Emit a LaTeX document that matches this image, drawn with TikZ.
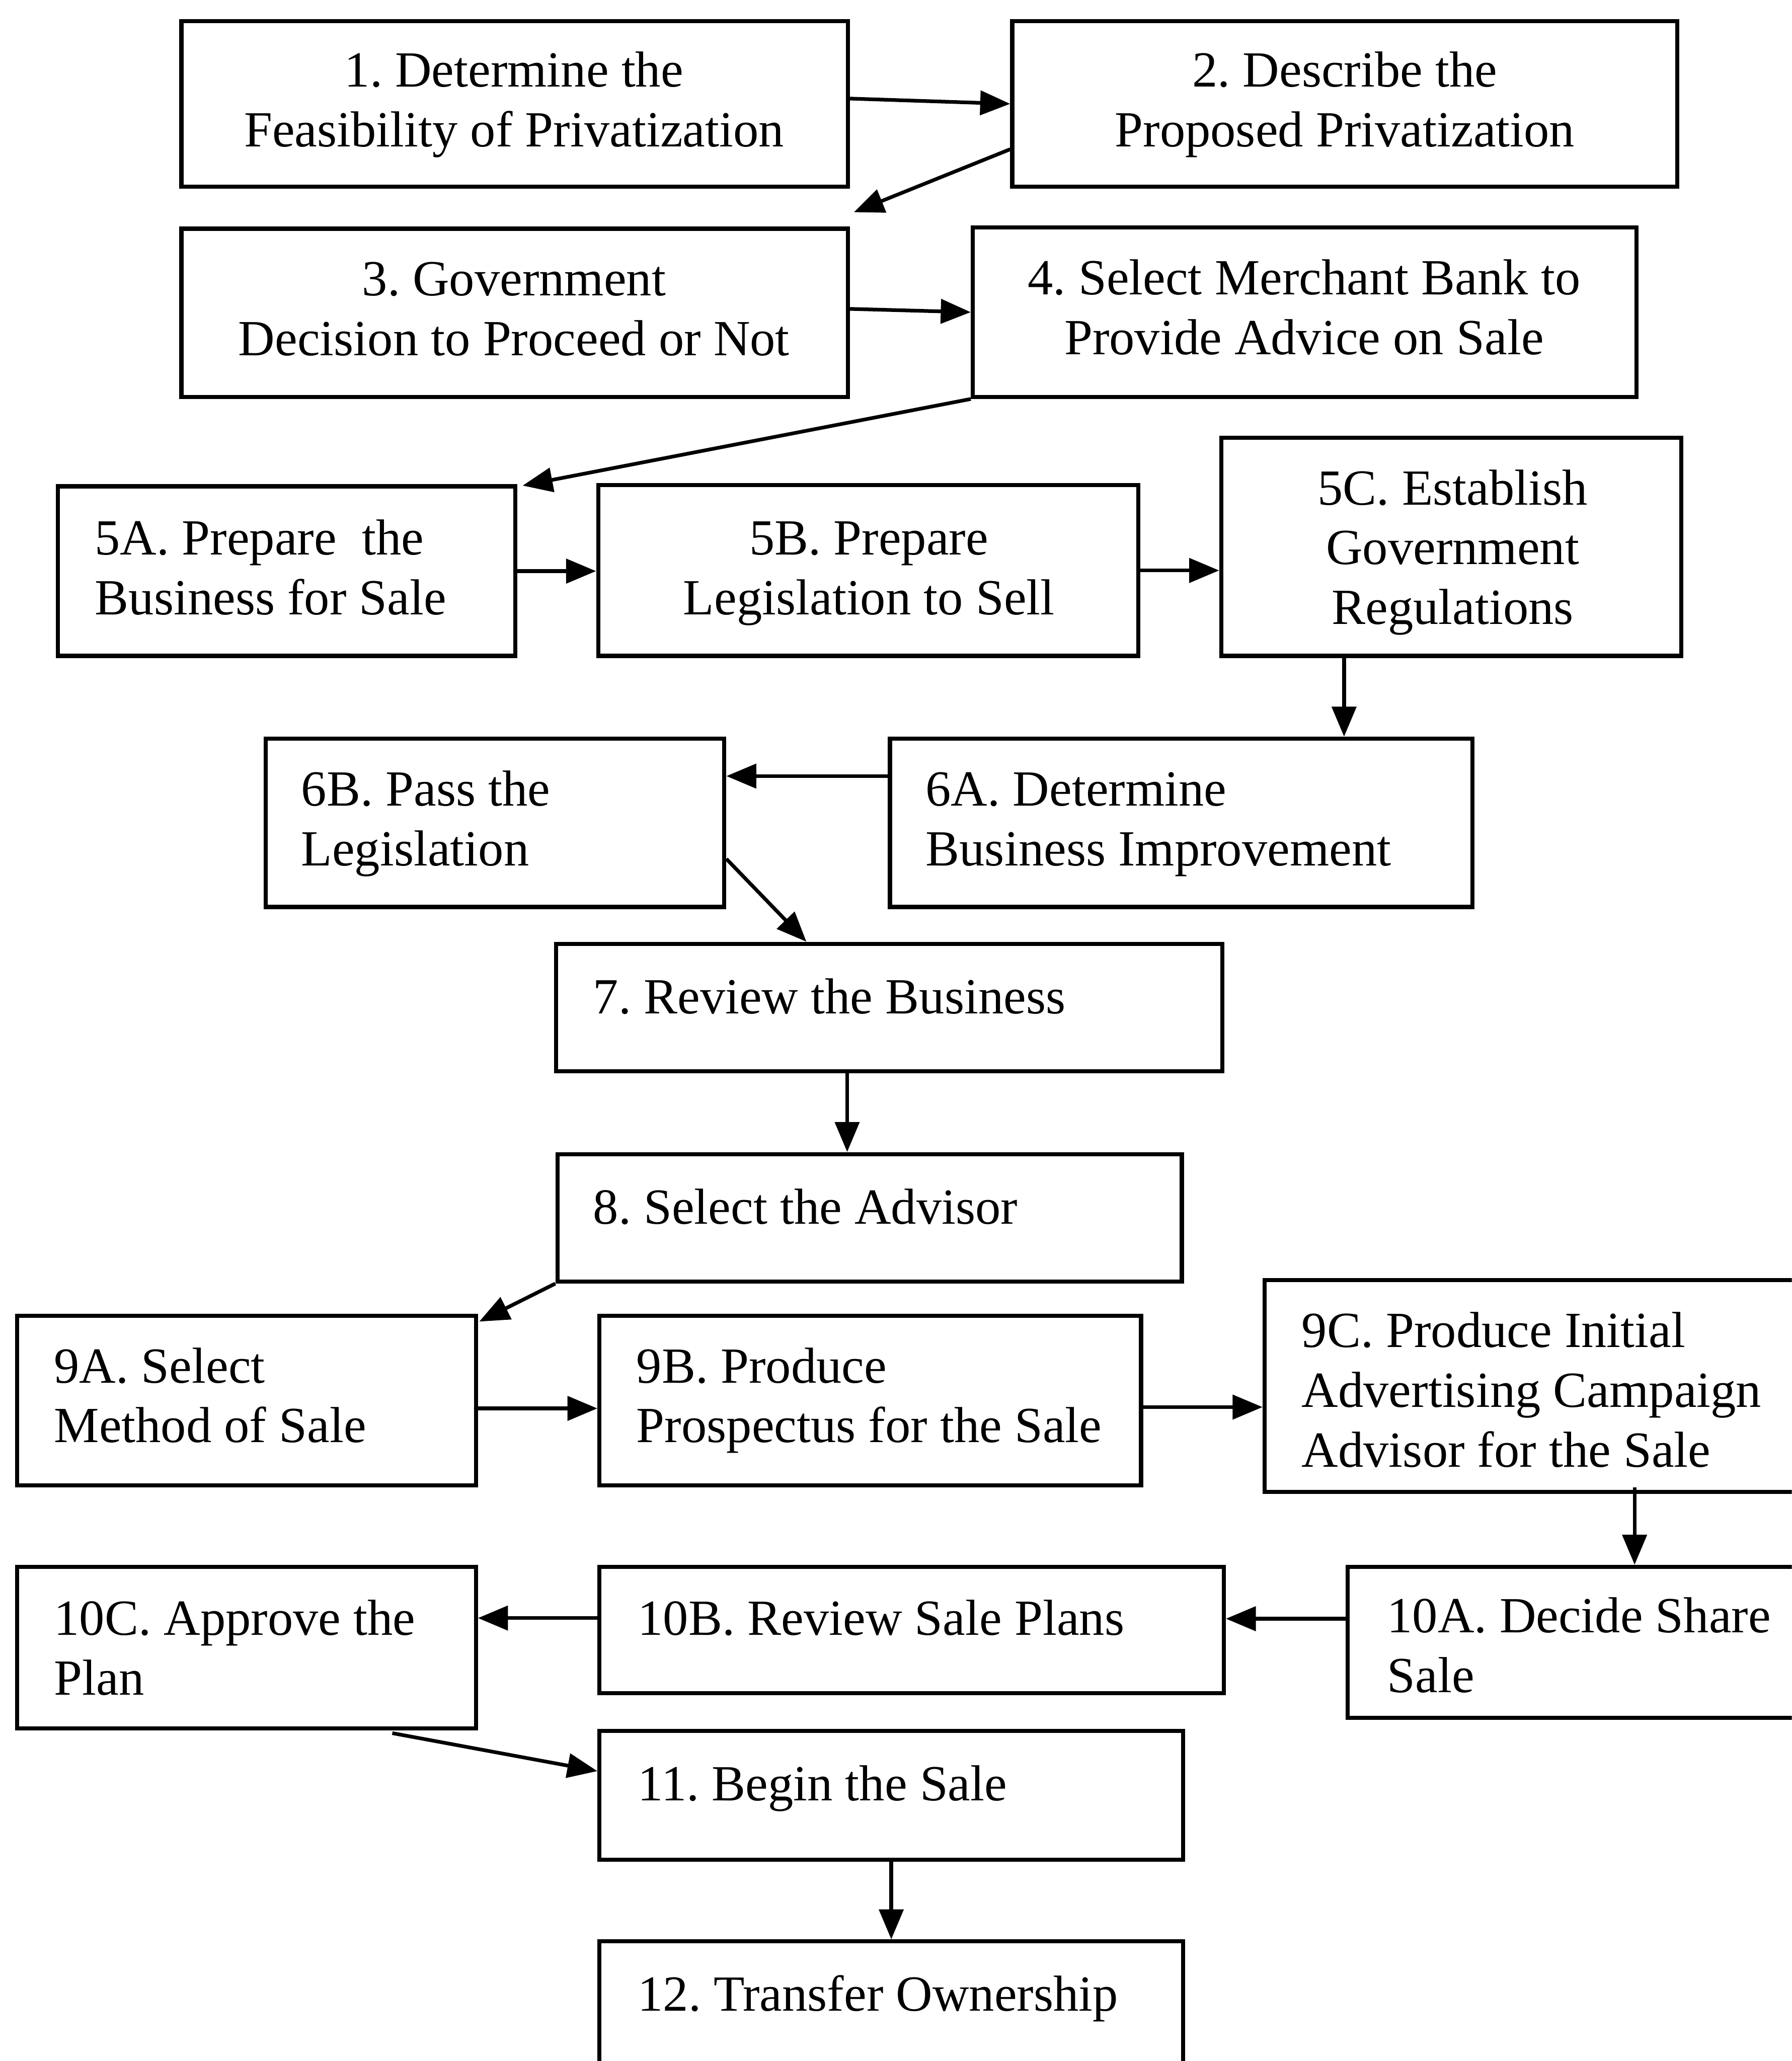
\documentclass[tikz,border=0pt]{standalone}
\usepackage{fontspec}
\setmainfont{Liberation Serif}
\usetikzlibrary{arrows.meta,calc,fit}
\begin{document}
\frenchspacing
\begin{tikzpicture}[x=0.031593cm,y=-0.031593cm,
  box/.style={draw,line width=2.8pt,inner sep=0pt,rectangle},
  txt/.style={inner sep=0pt,font=\fontsize{34.6pt}{40.9pt}\selectfont},
  ctxt/.style={txt,anchor=base,align=center},
  ltxt/.style={txt,anchor=base west,align=left},
  arr/.style={line width=2.5pt,-{Triangle[length=0.72cm,width=0.58cm]}}]
\path[use as bounding box] (0,0) rectangle (1363,1568);
\clip (0,0) rectangle (1363,1568);

% boxes
\node[box,fit={(138,16) (645,142)}] (b1) {};
\node[box,fit={(770,16) (1276,142)}] (b2) {};
\node[box,fit={(138,174) (645,302)}] (b3) {};
\node[box,fit={(740,173) (1245,302)}] (b4) {};
\node[box,fit={(44,370) (392,499)}] (b5a) {};
\node[box,fit={(455,369) (866,499)}] (b5b) {};
\node[box,fit={(929,333) (1279,499)}] (b5c) {};
\node[box,fit={(202,562) (551,690)}] (b6b) {};
\node[box,fit={(677,562) (1120,690)}] (b6a) {};
\node[box,fit={(423,718) (930,815)}] (b7) {};
\node[box,fit={(424,878) (899,975)}] (b8) {};
\node[box,fit={(13,1001) (362,1130)}] (b9a) {};
\node[box,fit={(456,1001) (868,1130)}] (b9b) {};
\node[box,fit={(962,974) (1385,1135)}] (b9c) {};
\node[box,fit={(13,1192) (362,1315)}] (b10c) {};
\node[box,fit={(456,1192) (931,1288)}] (b10b) {};
\node[box,fit={(1025,1192) (1385,1307)}] (b10a) {};
\node[box,fit={(456,1317) (900,1415)}] (b11) {};
\node[box,fit={(456,1477) (900,1600)}] (b12) {};

% labels (anchored at the baseline of the last line)
\node[ctxt] (t1) at (391,111.5) {1. Determine the\\Feasibility of Privatization};
\node[ctxt] (t2) at (1023,111.5) {2. Describe the\\Proposed Privatization};
\node[ctxt] (t3) at (391,270.5) {3. Government\\Decision to Proceed or Not};
\node[ctxt] (t4) at (992,269.5) {4. Select Merchant Bank to\\Provide Advice on Sale};
\node[ltxt] (t5a) at (72,467.5) {5A. Prepare\ \ the\\Business for Sale};
\node[ctxt] (t5b) at (661,467.5) {5B. Prepare\\Legislation to Sell};
\node[ctxt] (t5c) at (1105,475) {5C. Establish\\Government\\Regulations};
\node[ltxt] (t6b) at (229,658.5) {6B. Pass the\\Legislation};
\node[ltxt] (t6a) at (704,658.5) {6A. Determine\\Business Improvement};
\node[ltxt] (t7) at (451,771) {7. Review the Business};
\node[ltxt] (t8) at (451,931) {8. Select the Advisor};
\node[ltxt] (t9a) at (41,1097.5) {9A. Select\\Method of Sale};
\node[ltxt] (t9b) at (484,1097.5) {9B. Produce\\Prospectus for the Sale};
\node[ltxt] (t9c) at (990,1116) {9C. Produce Initial\\Advertising Campaign\\Advisor for the Sale};
\node[ltxt] (t10c) at (41,1289.5) {10C. Approve the\\Plan};
\node[ltxt] (t10b) at (485,1244) {10B. Review Sale Plans};
\node[ltxt] (t10a) at (1055,1287.5) {10A. Decide Share\\Sale};
\node[ltxt] (t11) at (485,1370) {11. Begin the Sale};
\node[ltxt] (t12) at (485,1530) {12. Transfer Ownership};

% connectors
\draw[arr] ($(b1.east)+(0,-4)$) -- (b2.west);
\draw[arr] ($(b2.south west)+(0,-30)$) -- ($(b3.north east)+(3,-11)$);
\draw[arr] ($(b3.east)+(0,-3)$) -- (b4.west);
\draw[arr] (b4.south west) -- ($(b5a.north east)+(4,1)$);
\draw[arr] (b5a.east) -- (b5a.east -| b5b.west);
\draw[arr] (b5b.east) -- (b5b.east -| b5c.west);
\draw[arr] ($(b5c.south west)+(95,0)$) coordinate (p) -- (p |- b6a.north);
\draw[arr] ($(b6a.north west)+(0,30)$) coordinate (p) -- (p -| b6b.east);
\draw[arr] ($(b6b.north east)+(0,93)$) -- ($(b7.north west)+(192,0)$);
\draw[arr] ($(b7.south west)+(223,0)$) coordinate (p) -- (p |- b8.north);
\draw[arr] (b8.south west) -- ($(b9a.north east)+(1,6)$);
\draw[arr] ($(b9a.east)+(0,6)$) coordinate (p) -- (p -| b9b.west);
\draw[arr] ($(b9b.east)+(0,5)$) coordinate (p) -- (p -| b9c.west);
\draw[arr] ($(b9c.south west)+(283,-5)$) coordinate (p) -- (p |- b10a.north);
\draw[arr] ($(b10a.west)+(0,-18)$) coordinate (p) -- (p -| b10b.east);
\draw[arr] ($(b10b.west)+(0,-9)$) coordinate (p) -- (p -| b10c.east);
\draw[arr] ($(b10c.south west)+(287,2)$) -- ($(b11.north west)+(0,32)$);
\draw[arr] (b11.south) -- (b12.north);
\end{tikzpicture}
\end{document}
